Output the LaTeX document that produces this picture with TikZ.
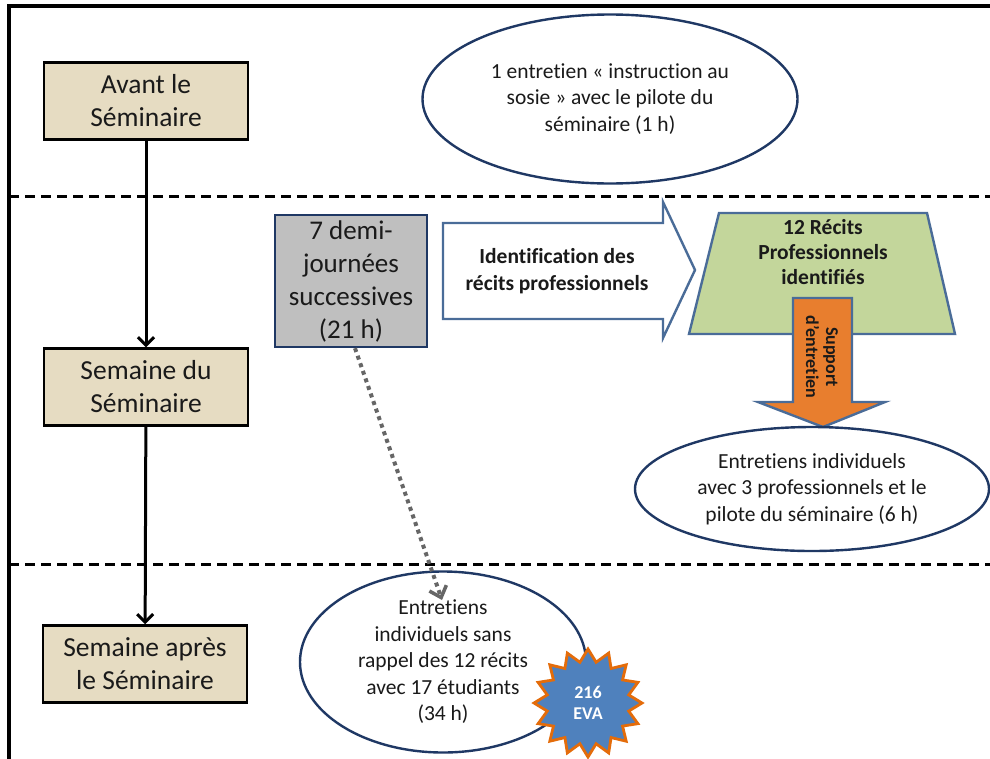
\documentclass[tikz,border=0pt]{standalone}
\usepackage{fontspec}
\setmainfont{Carlito}[Ligatures=NoCommon]
\usetikzlibrary{shapes.geometric,arrows.meta}
\definecolor{tanfill}{HTML}{E6DCC2}
\definecolor{ovalblue}{HTML}{1F3864}
\definecolor{steel}{HTML}{4A6C98}
\definecolor{orangefill}{HTML}{E87E2E}
\definecolor{greenfill}{HTML}{C3D69B}
\definecolor{greyfill}{HTML}{BFBFBF}
\definecolor{starblue}{HTML}{4F81BD}
\definecolor{starorange}{HTML}{E46C0A}
\definecolor{dotgrey}{HTML}{666666}
\definecolor{textdark}{HTML}{1A1A1A}
\begin{document}
\begin{tikzpicture}[x=1pt,y=-1pt,
  phase/.style={draw=black, line width=2.5pt, fill=tanfill, minimum width=204pt, minimum height=77pt,
    align=center, inner sep=0pt, text=textdark, font=\fontsize{27.5}{33}\selectfont},
  oval/.style={ellipse, draw=ovalblue, line width=2.4pt, fill=white, align=center, inner sep=0pt,
    text=textdark, font=\fontsize{21.5}{26.5}\selectfont},
  phasearrow/.style={draw=black, line width=3pt, -{Straight Barb[length=8pt,width=16pt,line width=3pt]}},
  sep/.style={draw=black, line width=3pt, dash pattern=on 10pt off 6pt},
  shapeline/.style={draw=steel, line width=2.4pt},
  boldlabel/.style={align=center, inner sep=0pt, text=textdark, font=\bfseries\fontsize{21.5}{25}\selectfont}
]
\useasboundingbox (0,0) rectangle (990,758);
\fill[white] (0,0) rectangle (990,758);

% frame and separators
\draw[black, line width=3.5pt] (9,760) -- (9,6) -- (992,6);
\draw[sep] (9,196) -- (992,196);
\draw[sep] (9,564) -- (992,564);

% phase boxes
\node[phase] (avant) at (146,101) {Avant le\\Séminaire};
\node[phase] (semdu) at (146,387) {Semaine du\\Séminaire};
\node[phase] (apres) at (145,664) {Semaine après\\le Séminaire};
\draw[phasearrow] (avant) -- (semdu);
\draw[phasearrow] (semdu) -- (apres);

% top ellipse
\node[oval, minimum width=375pt, minimum height=169pt] (sosie) at (610,99)
  {1 entretien « instruction au\\sosie » avec le pilote du\\séminaire (1 h)};

% grey box
\node[draw=ovalblue, line width=2.4pt, fill=greyfill, minimum width=152pt, minimum height=132pt,
  align=center, inner sep=0pt, text=textdark, font=\fontsize{27}{33}\selectfont] (demi) at (351,281)
  {7 demi-\\journées\\successives\\(21 h)};

% block arrow
\draw[shapeline, fill=white] (443,223) -- (663,223) -- (663,202) -- (695,270) -- (663,338)
  -- (663,319) -- (443,319) -- cycle;
\node[boldlabel, font=\bfseries\fontsize{21.5}{27}\selectfont] (ident) at (557,271)
  {Identification des\\récits professionnels};

% trapezoid
\draw[shapeline, fill=greenfill] (719,213) -- (927,213) -- (955,334) -- (689,334) -- cycle;
\node[boldlabel] (recits) at (823,252) {12 Récits\\Professionnels\\identifiés};

% orange down arrow
\draw[shapeline, fill=orangefill] (793,298) -- (852,298) -- (852,402) -- (885,402) -- (823,427)
  -- (758,402) -- (793,402) -- cycle;
\node[align=center, inner sep=0pt, rotate=-90, text=textdark, font=\bfseries\fontsize{18}{20}\selectfont]
  (support) at (822,357) {Support\\d'entretien};

% right ellipse
\node[oval, minimum width=354pt, minimum height=124pt] (indiv) at (812,489)
  {Entretiens individuels\\avec 3 professionnels et le\\pilote du séminaire (6 h)};

% bottom ellipse
\node[oval, minimum width=286pt, minimum height=181pt] (sans) at (443,662)
  {Entretiens\\individuels sans\\rappel des 12 récits\\avec 17 étudiants\\(34 h)};

% starburst
\node[star, star points=16, star point ratio=1.3, minimum size=108pt, inner sep=0pt,
  draw=starorange, line width=2.8pt, fill=starblue, text=white, align=center,
  font=\bfseries\fontsize{18}{21}\selectfont] (eva) at (588,703) {216\\EVA};

% dotted arrow
\coordinate (tipd) at (442,600);
\draw[dotgrey, line width=4pt, dash pattern=on 4pt off 4pt,
  -{Straight Barb[length=10pt,width=18pt,line width=3.5pt]}] ([xshift=4pt]demi.south) -- (tipd);
\end{tikzpicture}
\end{document}
